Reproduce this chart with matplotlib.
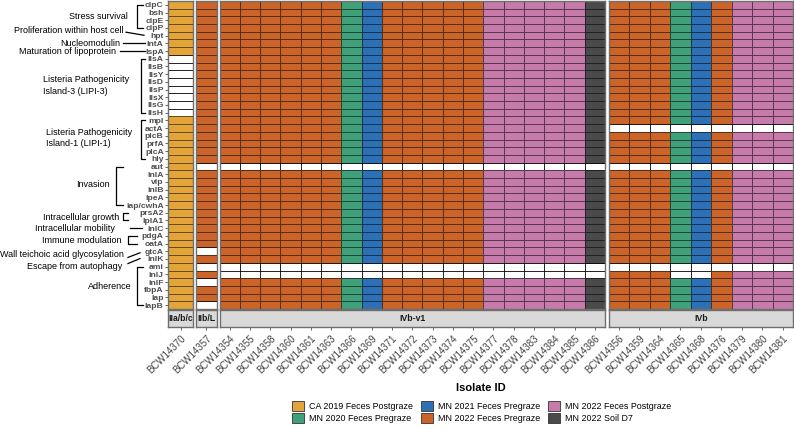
import numpy as np
import matplotlib.pyplot as plt
from matplotlib.colors import ListedColormap
from matplotlib.patches import Patch

plt.rcParams['font.family'] = ['Liberation Sans', 'DejaVu Sans']

genes = ["clpC", "bsh", "clpE", "clpP", "hpt", "lntA", "lspA",
         "llsA", "llsB", "llsY", "llsD", "llsP", "llsX", "llsG", "llsH",
         "mpl", "actA", "plcB", "prfA", "plcA", "hly",
         "aut", "inlA", "vip", "inlB", "lpeA", "iap/cwhA",
         "prsA2", "lplA1", "inlC", "pdgA", "oatA", "gtcA", "inlK",
         "ami", "inlJ", "inlF", "fbpA", "lap", "lapB"]

lineages = ["IIa/b/c", "IIb/L", "IVb-v1", "IVb"]
isolates_iiabc = ["BCW14370"]
isolates_iibl = ["BCW14357"]
isolates_ivbv1 = ["BCW14354", "BCW14355", "BCW14358", "BCW14360", "BCW14361", "BCW14363",
                  "BCW14366", "BCW14369", "BCW14371", "BCW14372", "BCW14373", "BCW14374",
                  "BCW14375", "BCW14377", "BCW14378", "BCW14383", "BCW14384", "BCW14385",
                  "BCW14386"]
isolates_ivb = ["BCW14356", "BCW14359", "BCW14364", "BCW14365", "BCW14368", "BCW14376",
                "BCW14379", "BCW14380", "BCW14381"]

sources = ["CA 2019 Feces Postgraze", "MN 2020 Feces Pregraze", "MN 2021 Feces Pregraze",
           "MN 2022 Feces Pregraze", "MN 2022 Feces Postgraze", "MN 2022 Soil D7"]
source_colors = ["#E3A43A", "#3FA07A", "#2E70B5", "#CB6429", "#C67BAA", "#4A4A4A"]

source_iiabc = ["CA 2019 Feces Postgraze"]
source_iibl = ["MN 2022 Feces Pregraze"]
source_ivbv1 = ["MN 2022 Feces Pregraze", "MN 2022 Feces Pregraze", "MN 2022 Feces Pregraze",
                "MN 2022 Feces Pregraze", "MN 2022 Feces Pregraze", "MN 2022 Feces Pregraze",
                "MN 2020 Feces Pregraze", "MN 2021 Feces Pregraze",
                "MN 2022 Feces Pregraze", "MN 2022 Feces Pregraze", "MN 2022 Feces Pregraze",
                "MN 2022 Feces Pregraze", "MN 2022 Feces Pregraze",
                "MN 2022 Feces Postgraze", "MN 2022 Feces Postgraze", "MN 2022 Feces Postgraze",
                "MN 2022 Feces Postgraze", "MN 2022 Feces Postgraze", "MN 2022 Soil D7"]
source_ivb = ["MN 2022 Feces Pregraze", "MN 2022 Feces Pregraze", "MN 2022 Feces Pregraze",
              "MN 2020 Feces Pregraze", "MN 2021 Feces Pregraze", "MN 2022 Feces Pregraze",
              "MN 2022 Feces Postgraze", "MN 2022 Feces Postgraze", "MN 2022 Feces Postgraze"]

# genes missing per isolate
absent_iiabc = ["llsA", "llsB", "llsY", "llsD", "llsP", "llsX", "llsG", "llsH"]
absent_iibl = ["aut", "gtcA", "ami", "inlF", "lapB"]
absent_ivbv1 = ["aut", "ami", "inlJ"]
absent_ivb = ["actA", "aut", "ami"]
absent_ivb_inlJ = ["BCW14365", "BCW14368"]

panel_isolates = [isolates_iiabc, isolates_iibl, isolates_ivbv1, isolates_ivb]
panel_sources = [source_iiabc, source_iibl, source_ivbv1, source_ivb]


def absent_for(lineage, iso):
    if lineage == "IIa/b/c":
        return absent_iiabc
    if lineage == "IIb/L":
        return absent_iibl
    if lineage == "IVb-v1":
        return absent_ivbv1
    extra = ["inlJ"] if iso in absent_ivb_inlJ else []
    return absent_ivb + extra


W, H = 794, 430
fig = plt.figure(figsize=(W / 100, H / 100), dpi=100)
cmap = ListedColormap(source_colors)
white = ListedColormap(["white"])

# panel edges in pixels (left, right)
panel_px = [(168, 193), (195.5, 217), (219.5, 605), (608.5, 793)]
left_px = panel_px[0][0]
top_px, bot_px = 1, 309
strip_top, strip_bot = 310, 327
ng = len(genes)

for k, (lin, isos, srcs) in enumerate(zip(lineages, panel_isolates, panel_sources)):
    x0, x1 = panel_px[k]
    w = x1 - x0
    ax = fig.add_axes([x0 / W, 1 - bot_px / H, w / W, (bot_px - top_px) / H])
    mat = np.zeros((ng, len(isos)))
    miss = np.zeros((ng, len(isos)), dtype=bool)
    for j, (iso, src) in enumerate(zip(isos, srcs)):
        mat[:, j] = sources.index(src)
        for g in absent_for(lin, iso):
            miss[genes.index(g), j] = True
    xe = np.arange(len(isos) + 1) - 0.5
    ye = np.arange(ng + 1) - 0.5
    ax.pcolormesh(xe, ye, np.ma.masked_where(~miss, mat), cmap=white,
                  edgecolors="#c4c4c4", linewidth=0.5)
    ax.pcolormesh(xe, ye, np.ma.masked_where(miss, mat), cmap=cmap, vmin=-0.5,
                  vmax=len(sources) - 0.5, edgecolors=(0, 0, 0, 0.55), linewidth=0.45)
    ax.set_xlim(-0.5, len(isos) - 0.5)
    ax.set_ylim(ng - 0.5, -0.5)
    ax.set_xticks([])
    for s in ax.spines.values():
        s.set_color("#6e6e6e")
        s.set_linewidth(1.0)
    if k == 0:
        ax.set_yticks(range(ng))
        ax.set_yticklabels(genes, fontsize=6.1, fontweight="bold", color="#4d4d4d")
        ax.tick_params(axis="y", length=2.2, width=0.6, color="#4d4d4d", pad=1)
    else:
        ax.set_yticks([])

    st = fig.add_axes([x0 / W, 1 - strip_bot / H, w / W, (strip_bot - strip_top) / H])
    st.set_facecolor("#d9d9d9")
    st.set_xlim(-0.5, len(isos) - 0.5)
    st.set_ylim(0, 1)
    st.set_yticks([])
    st.set_xticks(range(len(isos)))
    st.set_xticklabels(isos, rotation=45, ha="right", va="top", rotation_mode="anchor",
                       fontsize=7, color="#444444")
    st.tick_params(axis="x", length=2.5, width=0.6, color="#4d4d4d", pad=2)
    st.text((len(isos) - 1) / 2, 0.5, lin, ha="center", va="center",
            fontsize=6.2, fontweight="bold", color="#1a1a1a")
    for s in st.spines.values():
        s.set_color("#6e6e6e")
        s.set_linewidth(1.0)

# function annotations on the left
ann = fig.add_axes([0, 1 - bot_px / H, left_px / W, (bot_px - top_px) / H])
ann.set_xlim(0, left_px)
ann.set_ylim(ng - 0.5, -0.5)
ann.axis("off")
fs = 6.45


def bracket(x, g0, g1, x2):
    r0, r1 = genes.index(g0), genes.index(g1)
    ann.plot([x2, x, x, x2], [r0, r0, r1, r1], color="black", lw=0.9, clip_on=False)


def seg(xa, ya, xb, yb):
    ann.plot([xa, xb], [ya, yb], color="black", lw=0.9, clip_on=False)


def label(x, y, s, ha="right"):
    ann.text(x, y, s, ha=ha, va="center", fontsize=fs, color="black", linespacing=1.35)


label(128, 1.5, "Stress survival")
bracket(137, "clpC", "clpP", 143)
label(123, 3.35, "Proliferation within host cell")
seg(126, 3.55, 144, 3.95)
label(120, 5.0, "Nucleomodulin")
seg(123, 5.0, 145, 5.0)
label(116, 6.05, "Maturation of lipoprotein")
seg(120, 6.0, 145, 6.0)
label(43, 10.5, "Listeria Pathogenicity\nIsland-3 (LIPI-3)", ha="left")
bracket(141, "llsA", "llsH", 145)
label(46, 17.3, "Listeria Pathogenicity\nIsland-1 (LIPI-1)", ha="left")
bracket(141, "mpl", "hly", 145)
label(110, 23.3, "Invasion")
bracket(116, "aut", "iap/cwhA", 123)
label(119, 27.6, "Intracellular growth")
bracket(123, "prsA2", "lplA1", 128)
label(115, 29.0, "Intracellular mobility")
seg(130, 29.0, 142, 29.0)
label(121, 30.6, "Immune modulation")
bracket(128, "pdgA", "oatA", 137)
label(124, 32.4, "Wall teichoic acid glycosylation")
seg(128, 32.8, 140, 32.2)
label(122, 34.0, "Escape from autophagy")
seg(128, 33.6, 140, 32.95)
label(132, 36.6, "Adherence")
bracket(137, "ami", "lapB", 143)

fig.text(481 / W, 1 - 388 / H, "Isolate ID", ha="center", va="center",
         fontsize=8, fontweight="bold", color="black")

handles = [Patch(facecolor=c, edgecolor="#333333", linewidth=0.6, label=s)
           for s, c in zip(sources, source_colors)]
fig.legend(handles=handles, ncol=3, loc="center", bbox_to_anchor=(482 / W, 1 - 412 / H),
           frameon=False, fontsize=6.4, handlelength=1.3, handleheight=1.3,
           handletextpad=0.6, columnspacing=0.9, labelspacing=0.25, borderpad=0)

fig.savefig("out.png", dpi=100)
